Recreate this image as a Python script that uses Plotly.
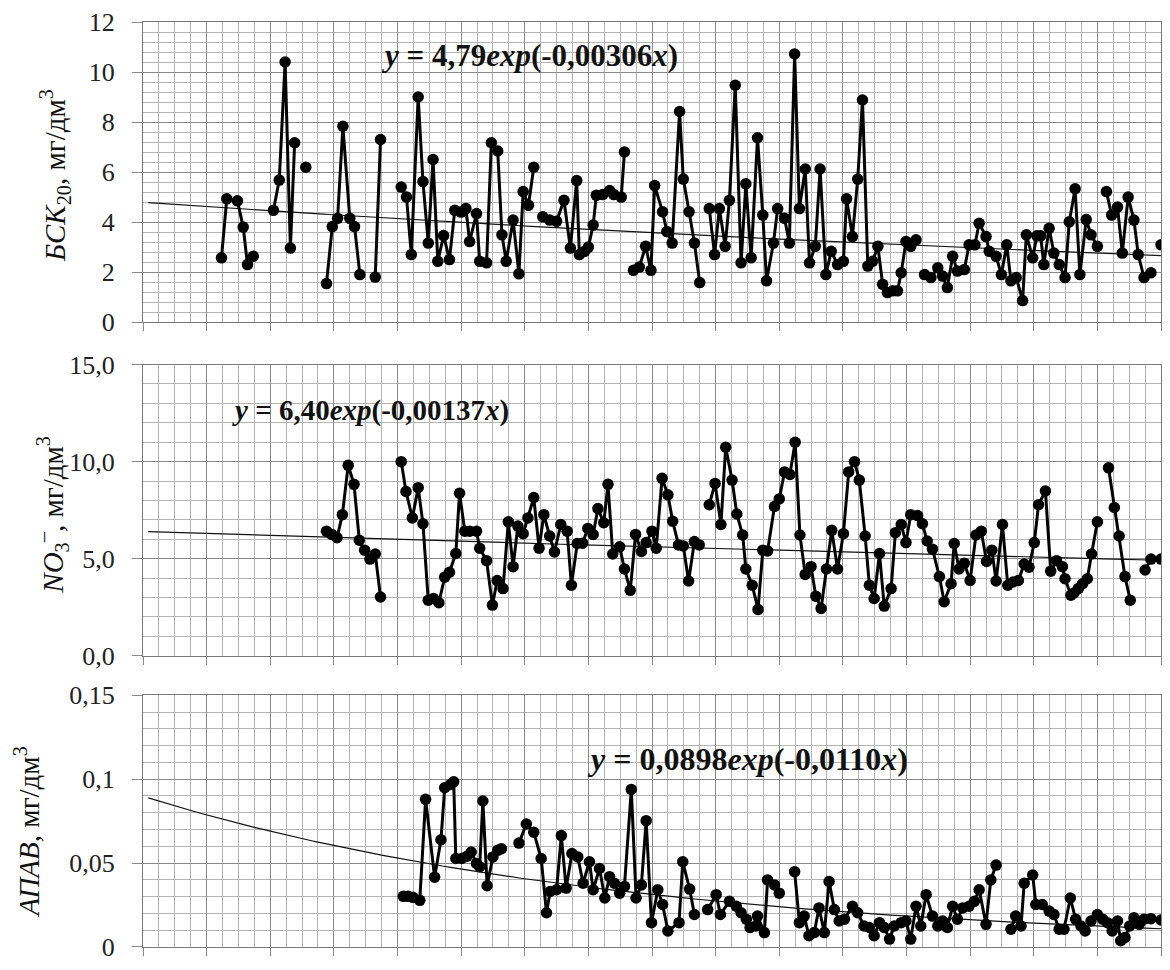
import plotly.graph_objects as go
import math

# ---------------- data (x = months from start of record) ----------------
N = None
bsk_x = [14.8, 15.8, 17.8, 18.9, 19.7, 20.8, N,
         24.6, 25.7, 26.8, 27.8, 28.6, N,
         30.7, N,
         34.6, 35.7, 36.7, 37.7, 39.0, 39.9, 40.9, N,
         43.8, 44.8, N,
         48.7, 49.7, 50.6, 51.9, 52.8, 53.8, 54.7, 55.6, 56.7, 57.8, 58.8, 60.0, 60.9, 61.6, 62.9,
         63.5, 64.8, 65.7, 66.9, 67.7, 68.5, 69.8, 70.9, 71.7, 72.7, 73.7, N,
         75.4, 76.7, 78.0, 79.4, 80.6, 81.8, 82.3, 83.3, 84.0, 84.9, 85.5, 86.7, 88.0, 88.8, 90.2, 90.8, N,
         92.5, 93.6, 94.8, 95.8, 96.5, 98.0, 98.8, 99.8, 101.2, 101.9, 103.0, 104.0, 105.0, N,
         106.8, 107.8, 108.7, 109.8, 110.6, 111.7, 112.8, 113.7, 114.7, 115.9, 116.9, 117.6, 118.9, 119.7,
         121.0, 121.9, 122.9, 123.8, 124.9, 125.7, 126.8, 127.7, 128.8, 129.8, 131.0, 132.1, 132.7, 133.8,
         134.8, 135.7, 136.7, 137.6, 138.6, 139.5, 140.4, 141.4, 142.3, 143.0, 143.9, 144.8, 145.8, N,
         147.4, 148.6, 149.9, 150.8, 151.7, 152.7, 153.6, 154.9, 155.8, 156.9, 157.7, 159.0, 159.6, 160.9,
         161.9, 162.9, 163.7, 164.7, 165.9, 166.6, 167.8, 168.6, 169.3, 169.9, 170.9, 171.8, 172.8, 173.9,
         174.7, 175.8, 176.7, 177.9, 178.8, 180.0, N,
         181.7, 182.7, 183.8, 184.7, 185.8, 186.9, 187.7, 188.8, 190.1, N,
         192.0]
bsk_y = [2.57, 4.93, 4.85, 3.8, 2.3, 2.63, N,
         4.47, 5.68, 10.4, 2.96, 7.17, N,
         6.19, N,
         1.54, 3.82, 4.15, 7.83, 4.15, 3.82, 1.9, N,
         1.8, 7.3, N,
         5.4, 5.0, 2.7, 9.0, 5.62, 3.16, 6.5, 2.43, 3.46, 2.5, 4.47, 4.4, 4.54, 3.22, 4.34,
         2.43, 2.37, 7.17, 6.84, 3.49, 2.43, 4.08, 1.93, 5.22, 4.67, 6.19, N,
         4.21, 4.08, 4.03, 4.87, 2.96, 5.66, 2.7, 2.83, 3.0, 3.88, 5.07, 5.1, 5.26, 5.1, 5.0, 6.8, N,
         2.07, 2.2, 3.03, 2.07, 5.46, 4.41, 3.62, 3.16, 8.42, 5.72, 4.41, 3.16, 1.58, N,
         4.54, 2.7, 4.54, 3.03, 4.87, 9.47, 2.37, 5.53, 2.57, 7.37, 4.28, 1.65, 3.16, 4.54,
         4.15, 3.16, 10.72, 4.54, 6.12, 2.37, 3.03, 6.12, 1.9, 2.83, 2.3, 2.43, 4.93, 3.42,
         5.72, 8.88, 2.24, 2.43, 3.03, 1.51, 1.18, 1.25, 1.25, 1.97, 3.22, 3.03, 3.29, N,
         1.9, 1.78, 2.17, 1.84, 1.38, 2.63, 2.04, 2.1, 3.09, 3.09, 3.95, 3.42, 2.83, 2.63,
         1.9, 3.09, 1.65, 1.78, 0.86, 3.49, 2.57, 3.45, 3.45, 2.3, 3.75, 2.76, 2.3, 1.78,
         4.01, 5.33, 1.9, 4.1, 3.49, 3.03, N,
         5.22, 4.28, 4.6, 2.76, 5.0, 4.08, 2.7, 1.78, 1.97, N,
         3.09]

no3_x = [34.6, 35.6, 36.6, 37.6, 38.7, 39.8, 40.8, 41.8, 42.8, 43.8, 44.8, N,
         48.7, 49.6, 50.8, 51.9, 52.8, 53.8, 54.8, 55.8, 56.9, 57.8, 59.0, 59.7, 60.7, 61.6, 62.9,
         63.5, 64.8, 65.9, 66.8, 67.9, 68.9, 69.8, 70.7, 71.7, 72.6, 73.7, 74.7, 75.6, 76.7, 77.6,
         78.8, 80.0, 80.8, 81.9, 82.9, 83.9, 84.9, 85.8, 86.9, 87.7, 88.6, 89.9, 90.8, 91.9, 92.9,
         94.0, 94.9, 96.0, 96.8, 97.9, 99.0, 99.9, 101.0, 101.9, 102.9, 104.0, 104.9, N,
         106.8, 107.9, 109.0, 109.9, 111.1, 112.0, 113.1, 113.7, 114.9, 116.0, 116.9, 117.8, 119.1,
         120.0, 121.0, 122.0, 123.0, 123.9, 124.9, 126.0, 126.9, 127.9, 128.9, 129.9, 131.0, 132.1,
         133.1, 134.2, 135.1, 136.2, 137.0, 137.9, 138.9, 139.8, 141.1, 141.9, 143.0, 143.9, 144.8,
         146.1, 147.0, 147.9, 148.9, 150.2, 151.1, 152.4, 153.0, 153.9, 154.9, 156.0, 157.1, 158.1,
         159.1, 160.1, 160.9, 162.1, 163.1, 164.1, 165.1, 166.2, 167.1, 168.1, 168.9, 170.2, 171.2,
         172.3, 173.4, 173.9, 175.0, 175.6, 176.4, 177.2, 178.1, 178.9, 180.0, N,
         182.1, 183.2, 184.1, 185.2, 186.2, N,
         189.0, 190.1, 192.0]
no3_y = [6.42, 6.25, 6.08, 7.27, 9.81, 8.83, 5.95, 5.44, 4.98, 5.24, 3.03, N,
         10.0, 8.46, 7.1, 8.66, 6.8, 2.86, 2.95, 2.73, 4.05, 4.3, 5.27, 8.37, 6.42, 6.42, 6.42,
         5.54, 4.9, 2.61, 3.88, 3.46, 6.9, 4.59, 6.68, 6.29, 7.1, 8.15, 5.54, 7.27, 6.17, 5.35,
         6.76, 6.42, 3.63, 5.78, 5.8, 6.56, 6.25, 7.58, 6.85, 8.83, 5.24, 5.61, 4.47, 3.37, 6.25,
         5.37, 5.83, 6.42, 5.54, 9.14, 8.29, 6.93, 5.71, 5.66, 3.85, 5.88, 5.71, N,
         7.78, 8.88, 6.76, 10.74, 9.05, 7.3, 6.22, 4.47, 3.63, 2.39, 5.44, 5.4, 7.69,
         8.08, 9.47, 9.34, 11.0, 6.22, 4.19, 4.59, 3.07, 2.44, 4.47, 6.46, 4.47, 6.29,
         9.47, 10.0, 9.05, 6.17, 3.63, 2.95, 5.27, 2.56, 3.46, 6.34, 6.76, 5.83, 7.27,
         7.22, 6.8, 5.91, 5.49, 4.08, 2.78, 3.71, 5.78, 4.47, 4.76, 3.88, 6.22, 6.42,
         4.86, 5.44, 3.85, 6.76, 3.63, 3.8, 3.88, 4.73, 4.56, 5.83, 7.78, 8.49, 4.36,
         4.9, 4.59, 3.97, 3.12, 3.24, 3.46, 3.71, 3.97, 5.24, 6.9, N,
         9.68, 7.64, 6.17, 4.08, 2.86, N,
         4.42, 4.98, 4.98]

apav_x = [49.1, 50.0, 50.9, 52.2, 53.3, 55.0, 56.2, 56.9, 58.0, 58.6, 59.0, 60.1, 61.1, 61.9, 62.9,
          63.5, 64.1, 64.9, 66.0, 66.9, 67.6, N,
          70.9, 72.3, 73.7, 75.1, 76.1, 76.8, 78.0, 78.9, 79.8, 80.9, 82.0, 83.0, 84.2, 84.9, 86.1,
          87.1, 88.0, 88.9, 89.9, 90.8, 92.1, 93.0, 94.0, 94.9, 95.9, 97.1, 98.0, 99.0, 101.1, 101.8,
          103.1, 104.0, N,
          106.5, 108.1, 108.9, 110.6, 111.9, 112.8, 113.8, 114.5, 115.6, 115.9, 117.2, 117.8, 119.1, 120.0, N,
          122.9, 123.8, 124.7, 125.6, 126.6, 127.5, 128.5, 129.4, 130.4, 131.3, 132.3, 133.8, 134.8,
          136.0, 137.0, 137.9, 138.9, 139.8, 140.8, 141.7, 143.0, 143.9, 144.8, 145.8, 146.7, 147.7,
          148.9, 149.9, 150.8, 151.7, 152.7, 153.6, 154.6, 155.8, 156.8, 157.7, 159.0, 159.9, 160.9, N,
          163.7, 164.6, 165.6, 166.2, 167.8, 168.4, 169.6, 170.9, 171.8, 172.8, 173.7, 174.9, 175.9,
          176.9, 177.7, 178.8, 180.0, 181.0, 181.9, 182.8, 183.8, 184.4, 185.2, 186.1, 186.9, 187.9,
          188.8, 190.1, 192.0]
apav_y = [0.0302, 0.0302, 0.0296, 0.0278, 0.088, 0.0416, 0.0639, 0.0949, 0.0968, 0.0984, 0.0527,
          0.0527, 0.0541, 0.0566, 0.0498, 0.0478, 0.087, 0.0365, 0.0537, 0.0576, 0.0586, N,
          0.0619, 0.0733, 0.0684, 0.0527, 0.0204, 0.0331, 0.0341, 0.0664, 0.0351, 0.0557, 0.0537,
          0.038, 0.0508, 0.0341, 0.0468, 0.0292, 0.0419, 0.038, 0.0321, 0.0361, 0.0939, 0.0292,
          0.037, 0.0753, 0.0145, 0.0341, 0.0253, 0.0096, 0.0145, 0.0508, 0.0345, 0.0194, N,
          0.0223, 0.0312, 0.0194, 0.0272, 0.0243, 0.0204, 0.0165, 0.0116, 0.0125, 0.0184, 0.0086,
          0.04, 0.037, 0.0321, N,
          0.0449, 0.0145, 0.0184, 0.0067, 0.0086, 0.0233, 0.0086, 0.039, 0.0223, 0.0155, 0.0165,
          0.0243, 0.0204, 0.0125, 0.0116, 0.0067, 0.0145, 0.0116, 0.0047, 0.0125, 0.0145, 0.0155,
          0.0047, 0.0243, 0.0125, 0.0312, 0.0184, 0.0125, 0.0155, 0.0116, 0.0243, 0.0165, 0.0233,
          0.0243, 0.0272, 0.0341, 0.0135, 0.04, 0.0488, N,
          0.0106, 0.0184, 0.0125, 0.038, 0.0429, 0.0253, 0.0253, 0.0214, 0.0194, 0.0106, 0.0106,
          0.0292, 0.0165, 0.0125, 0.0096, 0.0155, 0.0194, 0.0165, 0.0145, 0.0096, 0.0155, 0.0037,
          0.0057, 0.0125, 0.0174, 0.0135, 0.0165, 0.0169, 0.0161]

# trend-line coefficients printed on the chart: y = a*exp(b*x)
trend_bsk = (4.79, -0.00306)
trend_no3 = (6.40, -0.00137)
trend_apav = (0.0898, -0.0110)
trend_x = list(range(1, 193))

eq_bsk = "<b><i>y</i> = 4,79<i>exp</i>(-0,00306<i>x</i>)</b>"
eq_no3 = "<b><i>y</i> = 6,40<i>exp</i>(-0,00137<i>x</i>)</b>"
eq_apav = "<b><i>y</i> = 0,0898<i>exp</i>(-0,0110<i>x</i>)</b>"

title_bsk = "<i>БСК</i><sub>20</sub>, мг/дм<sup>3</sup>"
title_no3 = "<i>NO</i><sub>3</sub><sup>–</sup>, мг/дм<sup>3</sup>"
title_apav = "<i>АПАВ</i>, мг/дм<sup>3</sup>"

# ---------------- figure ----------------
W, H = 1170, 970
L, R, T, B = 143, 8, 21, 12
PW, PH = W - L - R, H - T - B


def px(xp):
    return (xp - L) / PW


def py(yp):
    return (H - B - yp) / PH


FONT = "Liberation Serif"
MAJ = "#8a8a8a"
MIN = "#b4b4b4"

fig = go.Figure()
panels = [
    ("x", "y", bsk_x, bsk_y, trend_bsk),
    ("x2", "y2", no3_x, no3_y, trend_no3),
    ("x3", "y3", apav_x, apav_y, trend_apav),
]
for xa, ya, xs, ys, (a, b) in panels:
    fig.add_trace(go.Scatter(x=trend_x, y=[a * math.exp(b * t) for t in trend_x],
                             mode="lines", line=dict(color="#111", width=1.2),
                             xaxis=xa, yaxis=ya, hoverinfo="skip"))
    fig.add_trace(go.Scatter(x=xs, y=ys, mode="lines+markers",
                             line=dict(color="#000", width=3),
                             marker=dict(color="#000", size=11.5),
                             connectgaps=False, xaxis=xa, yaxis=ya))

doms = [[py(325), py(21)], [py(663), py(368)], [py(958), py(703)]]
yspecs = [
    dict(range=[0, 12], dtick=2, minor=0.4, fmt=""),
    dict(range=[0, 15], dtick=5, minor=1, fmt=".1f"),
    dict(range=[0, 0.15], dtick=0.05, minor=0.01, fmt=""),
]

layout = dict(width=W, height=H, autosize=False,
              margin=dict(l=L, r=R, t=T, b=B),
              paper_bgcolor="white", plot_bgcolor="white",
              showlegend=False, separators=", ",
              font=dict(family=FONT, color="#222"))

for i, (dom, ys) in enumerate(zip(doms, yspecs)):
    sfx = "" if i == 0 else str(i + 1)
    layout["xaxis" + sfx] = dict(
        domain=[0, 1], anchor="y" + sfx, range=[0, 192], tick0=0, dtick=12,
        showgrid=True, gridcolor=MAJ, gridwidth=1,
        minor=dict(tick0=0, dtick=3, showgrid=True, gridcolor=MIN, gridwidth=1),
        showticklabels=False, ticks="outside", ticklen=8, tickcolor=MAJ,
        showline=True, linecolor="#7a7a7a", linewidth=1, mirror=True, zeroline=False)
    layout["yaxis" + sfx] = dict(
        domain=dom, anchor="x" + sfx, range=ys["range"], tick0=0, dtick=ys["dtick"],
        tickformat=ys["fmt"],
        showgrid=True, gridcolor=MAJ, gridwidth=1,
        minor=dict(tick0=0, dtick=ys["minor"], showgrid=True, gridcolor=MIN, gridwidth=1),
        ticks="outside", ticklen=10, tickcolor=MAJ, ticklabelstandoff=12,
        tickfont=dict(family=FONT, size=26, color="#222"),
        showline=True, linecolor="#7a7a7a", linewidth=1, mirror=True, zeroline=False)

fig.update_layout(**layout)

annots = [
    (title_bsk, 55, 177, 29, -90),
    (title_no3, 52, 520, 29, -90),
    (title_apav, 27, 842, 29, -90),
    (eq_bsk, 530, 55, 31, 0),
    (eq_no3, 371, 415, 29, 0),
    (eq_apav, 748, 768, 32, 0),
]
for text, xp, yp, size, ang in annots:
    fig.add_annotation(text=text, x=px(xp), y=py(yp), xref="paper", yref="paper",
                       xanchor="center", yanchor="middle", showarrow=False,
                       textangle=ang, font=dict(family=FONT, size=size, color="#111"))

fig.write_html("out.html")
